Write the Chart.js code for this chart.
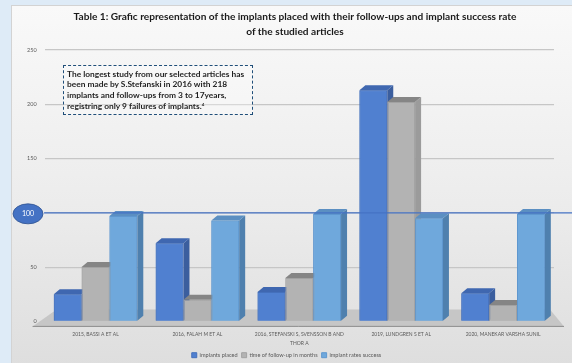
<!DOCTYPE html>
<html>
<head>
<meta charset="utf-8">
<script src="https://cdn.jsdelivr.net/npm/chart.js@4/dist/chart.umd.min.js"></script>
<style>
  html, body { margin: 0; padding: 0; }
  body { width: 572px; height: 363px; overflow: hidden; background: #deebf7; position: relative; font-family: Lato, sans-serif; }
  #card {
    position: absolute; left: 11px; top: 5px; width: 566px; height: 362px;
    box-sizing: border-box; border: 1px solid #d3d3d3;
    background: linear-gradient(#f9f9f9, #ececec 55%, #dedede);
  }
  #card canvas { position: absolute; left: 0; top: 0; }
  #title {
    position: absolute; left: 45px; width: 500px; top: 9px;
    text-align: center; font: bold 10.15px/14.5px Lato, sans-serif; color: #1a1a1a;
  }
  #note {
    position: absolute; left: 63px; top: 65px; width: 190px; height: 50px;
    box-sizing: border-box; border: 1.5px dashed #1f4e79;
    padding: 3px 2px 0 3px; white-space: nowrap;
    font: bold 8.4px/10.3px Lato, sans-serif; color: #1e1e1e;
    background: rgba(255,255,255,0.3);
  }
  #note sup { font-size: 4.5px; vertical-align: 3px; }
</style>
</head>
<body>
<div id="card"><canvas id="chart" width="560" height="357"></canvas></div>
<div id="title">Table 1: Grafic representation of the implants placed with their follow-ups and implant success rate<br>of the studied articles</div>
<div id="note">The longest study from our selected articles has<br>been made by S.Stefanski in 2016 with 218<br>implants and follow-ups from 3 to 17years,<br>registring only 9 failures of implants.<sup>4</sup></div>
<script>
const categories = [
    '2015, BASSI A ET AL',
    '2016, FALAH M ET AL',
    ['2016, STEFANSKI S, SVENSSON B AND', 'THOR A'],
    '2019, LUNDGREN S ET AL',
    '2020, MANEKAR VARSHA SUNIL'
];
const implantsPlaced = [25, 72, 27, 213, 26];
const followUpMonths = [50, 20, 40, 202, 15];
const successRates = [97, 93, 99, 95, 99];
const yTicks = [0, 50, 100, 150, 200, 250];
const markedValue = 100;

// front / side / top colours for the fake 3d boxes
const faceColors = [
    { front: '#5080d0', side: '#3b5e9e', top: '#3f67b0' },
    { front: '#b3b3b3', side: '#9b9b9b', top: '#858585' },
    { front: '#6fa8dc', side: '#4f80ae', top: '#5b8fc2' }
];
const DX = 6, DY = 5;

// gray floor under the bars
const floorPlugin = {
    id: 'floor',
    beforeDatasetsDraw(chart) {
        const { ctx, chartArea: a } = chart;
        ctx.save();
        ctx.fillStyle = '#c6c6c6';
        ctx.beginPath();
        ctx.moveTo(a.left + 12, a.bottom - 12);
        ctx.lineTo(a.right - 4, a.bottom - 12);
        ctx.lineTo(a.right + 10, a.bottom + 5);
        ctx.lineTo(a.left - 12, a.bottom + 5);
        ctx.closePath();
        ctx.fill();
        ctx.strokeStyle = '#8c8c8c';
        ctx.lineWidth = 1;
        ctx.beginPath();
        ctx.moveTo(a.left - 12, a.bottom + 5);
        ctx.lineTo(a.right + 10, a.bottom + 5);
        ctx.stroke();
        ctx.restore();
    }
};

// redraw every bar as a box: front face from the element, then its top and side
const boxPlugin = {
    id: 'boxes',
    afterDatasetsDraw(chart) {
        const { ctx } = chart;
        const metas = chart.data.datasets.map((d, i) => chart.getDatasetMeta(i));
        ctx.save();
        for (let i = 0; i < categories.length; i++) {
            metas.forEach((meta, d) => {
                const bar = meta.data[i];
                const c = faceColors[d];
                const x0 = bar.x - bar.width / 2, x1 = bar.x + bar.width / 2;
                const yt = bar.y, yb = bar.base;
                ctx.fillStyle = c.side;
                ctx.beginPath();
                ctx.moveTo(x1, yt); ctx.lineTo(x1 + DX, yt - DY);
                ctx.lineTo(x1 + DX, yb - DY); ctx.lineTo(x1, yb);
                ctx.closePath(); ctx.fill();
                ctx.fillStyle = c.top;
                ctx.beginPath();
                ctx.moveTo(x0, yt); ctx.lineTo(x0 + DX, yt - DY);
                ctx.lineTo(x1 + DX, yt - DY); ctx.lineTo(x1, yt);
                ctx.closePath(); ctx.fill();
                bar.draw(ctx);
            });
        }
        ctx.restore();
    }
};

// blue marker line with the oval label
const markerPlugin = {
    id: 'marker',
    afterDraw(chart) {
        const { ctx } = chart;
        const y = chart.scales.y.getPixelForValue(markedValue);
        ctx.save();
        ctx.strokeStyle = '#4472c4';
        ctx.lineWidth = 1.3;
        ctx.beginPath();
        ctx.moveTo(32, y);
        ctx.lineTo(chart.width, y);
        ctx.stroke();
        ctx.fillStyle = '#4472c4';
        ctx.strokeStyle = '#2f528f';
        ctx.lineWidth = 0.8;
        ctx.beginPath();
        ctx.ellipse(16, y + 1, 15, 10, 0, 0, Math.PI * 2);
        ctx.fill();
        ctx.stroke();
        ctx.fillStyle = '#ffffff';
        ctx.font = '7px Lato';
        ctx.textAlign = 'center';
        ctx.textBaseline = 'middle';
        ctx.fillText(String(markedValue), 16, y + 1);
        ctx.restore();
    }
};

new Chart(document.getElementById('chart'), {
    type: 'bar',
    data: {
        labels: categories,
        datasets: [{
            label: 'implants placed',
            data: implantsPlaced,
            backgroundColor: faceColors[0].front,
            borderColor: '#4470bc',
            borderWidth: 1
        }, {
            label: 'time of follow-up in months',
            data: followUpMonths,
            backgroundColor: faceColors[1].front,
            borderColor: '#a2a2a2',
            borderWidth: 1
        }, {
            label: 'implant rates success',
            data: successRates,
            backgroundColor: faceColors[2].front,
            borderColor: '#5e97cf',
            borderWidth: 1
        }]
    },
    options: {
        responsive: false,
        animation: false,
        categoryPercentage: 0.82,
        barPercentage: 1.0,
        layout: { padding: { left: 7, right: 18, top: 44, bottom: -5 } },
        plugins: {
            title: { display: false },
            legend: {
                position: 'bottom',
                labels: {
                    boxWidth: 5, boxHeight: 5, padding: 4,
                    font: { family: 'Lato', size: 5.6 },
                    color: '#595959'
                }
            },
            tooltip: { enabled: false }
        },
        scales: {
            x: {
                grid: { display: false },
                border: { display: false },
                ticks: { font: { family: 'Lato', size: 5, lineHeight: 1.7 }, color: '#595959', maxRotation: 0, padding: 1 }
            },
            y: {
                min: 0,
                max: 250,
                afterBuildTicks(axis) { axis.ticks = yTicks.map(v => ({ value: v })); },
                ticks: {
                    font: { family: 'Lato', size: 5.5 },
                    color: '#595959',
                    padding: 8,
                    callback: v => (v === markedValue ? '' : v)
                },
                grid: { color: '#c6c6c6', lineWidth: 1.2, drawTicks: false },
                border: { display: false }
            }
        }
    },
    plugins: [floorPlugin, boxPlugin, markerPlugin]
});
</script>
</body>
</html>
